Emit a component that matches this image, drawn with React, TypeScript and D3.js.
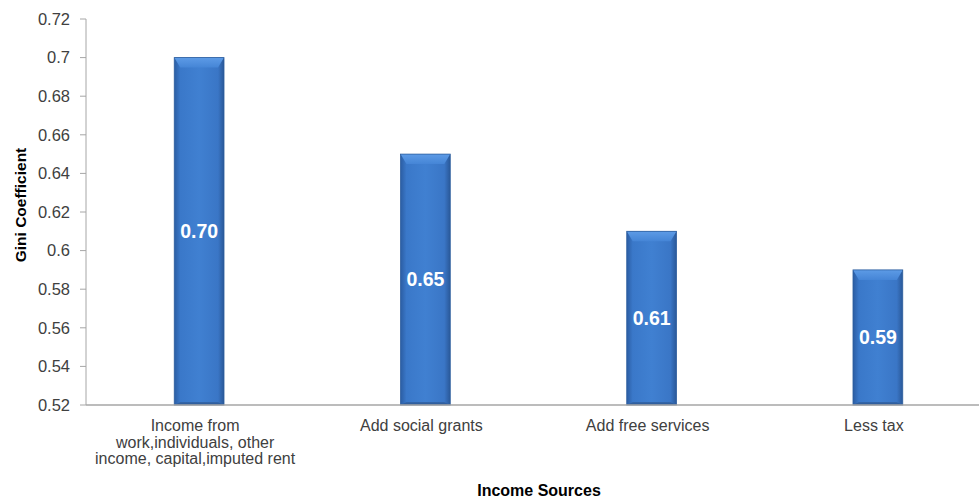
import React from "react";
import * as d3 from "d3";

const categories = [
  "Income from work,individuals, other income, capital,imputed rent",
  "Add social grants",
  "Add free services",
  "Less tax",
];
const categoryLines = [
  ["Income from", "work,individuals, other", "income, capital,imputed rent"],
  ["Add social grants"],
  ["Add free services"],
  ["Less tax"],
];
const values = [0.7, 0.65, 0.61, 0.59];
const valueLabels = ["0.70", "0.65", "0.61", "0.59"];
const yTicks = [0.52, 0.54, 0.56, 0.58, 0.6, 0.62, 0.64, 0.66, 0.68, 0.7, 0.72];

const W = 979;
const H = 502;
const left = 86;
const top = 19;
const bottom = 405;
const right = 991;

export default function App() {
  const x = d3.scaleBand<string>().domain(categories).range([left, right]).paddingInner(0.78).paddingOuter(0.39);
  const y = d3.scaleLinear().domain([0.52, 0.72]).range([bottom, top]);
  const bw = x.bandwidth();
  const font = "'Liberation Sans', Arial, sans-serif";
  return (
    <svg width={W} height={H} style={{ position: "absolute", left: 0, top: 0, background: "#fff" }}>
      <defs>
        <linearGradient id="barH" x1="0" x2="1" y1="0" y2="0">
          <stop offset="0" stopColor="#2b5da3" />
          <stop offset="0.12" stopColor="#3a78c9" />
          <stop offset="0.5" stopColor="#4080d1" />
          <stop offset="0.88" stopColor="#3a76c6" />
          <stop offset="1" stopColor="#2a5898" />
        </linearGradient>
        <linearGradient id="barTop" x1="0" x2="0" y1="0" y2="1">
          <stop offset="0" stopColor="#5d9be6" />
          <stop offset="1" stopColor="#4585d6" />
        </linearGradient>
        <linearGradient id="barBottom" x1="0" x2="0" y1="0" y2="1">
          <stop offset="0" stopColor="#3468ad" />
          <stop offset="1" stopColor="#2a5590" />
        </linearGradient>
      </defs>
      {/* y axis */}
      <line x1={left} x2={left} y1={top} y2={bottom} stroke="#a6a6a6" strokeWidth={1} />
      {yTicks.map((t) => (
        <g key={t}>
          <line x1={left - 6} x2={left} y1={y(t)} y2={y(t)} stroke="#a6a6a6" />
          <text
            x={left - 16}
            y={y(t)}
            dy="0.35em"
            textAnchor="end"
            fontFamily={font}
            fontSize={16.5}
            fill="#404040"
          >
            {String(+t.toFixed(2))}
          </text>
        </g>
      ))}
      {/* bars */}
      {categories.map((c, i) => {
        const x0 = x(c)!;
        const y0 = y(values[i]);
        const h = bottom - y0;
        const bev = 6;
        return (
          <g key={c}>
            <rect x={x0} y={y0} width={bw} height={h} fill="url(#barH)" />
            <polygon
              points={`${x0},${y0} ${x0 + bw},${y0} ${x0 + bw - bev},${y0 + bev + 4} ${x0 + bev},${y0 + bev + 4}`}
              fill="url(#barTop)"
            />
            <polygon
              points={`${x0},${bottom} ${x0 + bw},${bottom} ${x0 + bw - bev},${bottom - 3} ${x0 + bev},${bottom - 3}`}
              fill="url(#barBottom)"
            />
            <rect x={x0} y={y0} width={bw} height={h} fill="none" stroke="#2d5e9e" strokeWidth={0.8} />
            <text
              x={x0 + bw / 2}
              y={(y0 + bottom) / 2}
              dy="0.35em"
              textAnchor="middle"
              fontFamily={font}
              fontWeight="bold"
              fontSize={19.5}
              fill="#fff"
            >
              {valueLabels[i]}
            </text>
          </g>
        );
      })}
      {/* x axis */}
      <line x1={left} x2={W} y1={bottom} y2={bottom} stroke="#a6a6a6" strokeWidth={1.5} />
      {categories.map((c, i) => (
        <text key={c} textAnchor="middle" fontFamily={font} fontSize={16} fill="#404040">
          {categoryLines[i].map((ln, j) => (
            <tspan key={j} x={x(c)! + bw / 2 - 4} y={431 + j * 16.5}>
              {ln}
            </tspan>
          ))}
        </text>
      ))}
      <text x={539} y={496} textAnchor="middle" fontFamily={font} fontWeight="bold" fontSize={16} fill="#000">
        Income Sources
      </text>
      <text
        transform={`translate(26,205) rotate(-90)`}
        textAnchor="middle"
        fontFamily={font}
        fontWeight="bold"
        fontSize={15.5}
        fill="#000"
      >
        Gini Coefficient
      </text>
    </svg>
  );
}
